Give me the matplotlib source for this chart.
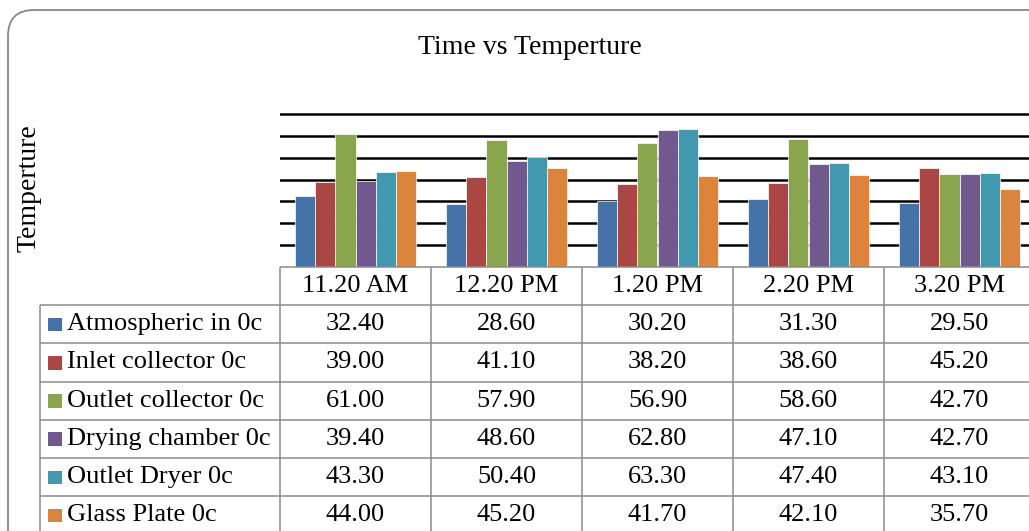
import numpy as np
import matplotlib.pyplot as plt
from matplotlib.patches import FancyBboxPatch, Rectangle

times = ['11.20 AM', '12.20 PM', '1.20 PM', '2.20 PM', '3.20 PM']
series_names = ['Atmospheric in 0c', 'Inlet collector 0c', 'Outlet collector 0c',
                'Drying chamber 0c', 'Outlet Dryer 0c', 'Glass Plate 0c']
atmospheric = [32.40, 28.60, 30.20, 31.30, 29.50]
inlet_collector = [39.00, 41.10, 38.20, 38.60, 45.20]
outlet_collector = [61.00, 57.90, 56.90, 58.60, 42.70]
drying_chamber = [39.40, 48.60, 62.80, 47.10, 42.70]
outlet_dryer = [43.30, 50.40, 63.30, 47.40, 43.10]
glass_plate = [44.00, 45.20, 41.70, 42.10, 35.70]
colors = ['#4572A7', '#AA4643', '#89A54E', '#71588F', '#4198AF', '#DB843D']

series = [atmospheric, inlet_collector, outlet_collector,
          drying_chamber, outlet_dryer, glass_plate]

W, H = 1029, 531
serif = 'Liberation Serif'
grey = '#8C8C8C'

# layout in pixels
col_left, col_w = 280, 151
label_left = 40
table_top, row_h = 267, 38.2
top_px = 114      # pixel row of the 70 gridline
ytop = 70
ymax = 71.5

fig = plt.figure(figsize=(W / 100, H / 100), dpi=100)

# background with rounded frame
bg = fig.add_axes([0, 0, 1, 1])
bg.set_xlim(0, W)
bg.set_ylim(H, 0)
bg.axis('off')
bg.add_patch(FancyBboxPatch((8, 10), 1100, 600,
                            boxstyle='round,pad=0,rounding_size=26',
                            fc='white', ec='#878787', lw=1.3))

# bar chart
ncat = len(times)
plot_h = (table_top - top_px) * ymax / ytop
ax = fig.add_axes([col_left / W, (H - table_top) / H,
                   ncat * col_w / W, plot_h / H])
ax.patch.set_alpha(0)
bw = 1 / 7.5
x = np.arange(ncat) + 0.5
for j, (vals, c) in enumerate(zip(series, colors)):
    ax.bar(x + (j - 2.5) * bw, vals, bw, color=c,
           edgecolor='white', linewidth=0.5, zorder=3)
ax.set_xlim(0, ncat)
ax.set_ylim(0, ymax)
ax.set_yticks(range(10, ytop + 1, 10))
ax.yaxis.grid(True, color='black', lw=1.8, zorder=0)
ax.set_axisbelow(True)
ax.tick_params(length=0, labelleft=False, labelbottom=False)
ax.set_xticks([])
for s in ax.spines.values():
    s.set_visible(False)

# data table and texts
ov = fig.add_axes([0, 0, 1, 1])
ov.set_xlim(0, W)
ov.set_ylim(H, 0)
ov.axis('off')
ov.patch.set_alpha(0)

right = col_left + ncat * col_w
nrows = len(series_names)
bottom = table_top + (nrows + 1) * row_h
lk = dict(color=grey, lw=1.1, solid_capstyle='butt')
ov.plot([col_left, right], [table_top, table_top], **lk)
for k in range(1, nrows + 2):
    y = table_top + k * row_h
    ov.plot([label_left, right], [y, y], **lk)
ov.plot([label_left, label_left], [table_top + row_h, bottom], **lk)
for c in range(ncat + 1):
    xc = col_left + c * col_w
    ov.plot([xc, xc], [table_top, bottom], **lk)

for c, t in enumerate(times):
    ov.text(col_left + (c + 0.5) * col_w, table_top + 0.5 * row_h, t,
            ha='center', va='center', fontsize=19, family=serif)

for r, (name, vals, colr) in enumerate(zip(series_names, series, colors)):
    yc = table_top + (r + 1.5) * row_h
    ov.add_patch(Rectangle((48, yc - 6.5), 13.5, 13.5, fc=colr, ec='none'))
    ov.text(67, yc, name, ha='left', va='center', fontsize=19, family=serif)
    for c, v in enumerate(vals):
        ov.text(col_left + (c + 0.5) * col_w, yc, f'{v:.2f}',
                ha='center', va='center', fontsize=19, family=serif)

ov.text(530, 48, 'Time vs Temperture', ha='center', va='center',
        fontsize=20, family=serif)
ov.text(29, 188, 'Temperture', ha='center', va='center', rotation=90,
        fontsize=20, family=serif)

fig.savefig('out.png', dpi=100)
